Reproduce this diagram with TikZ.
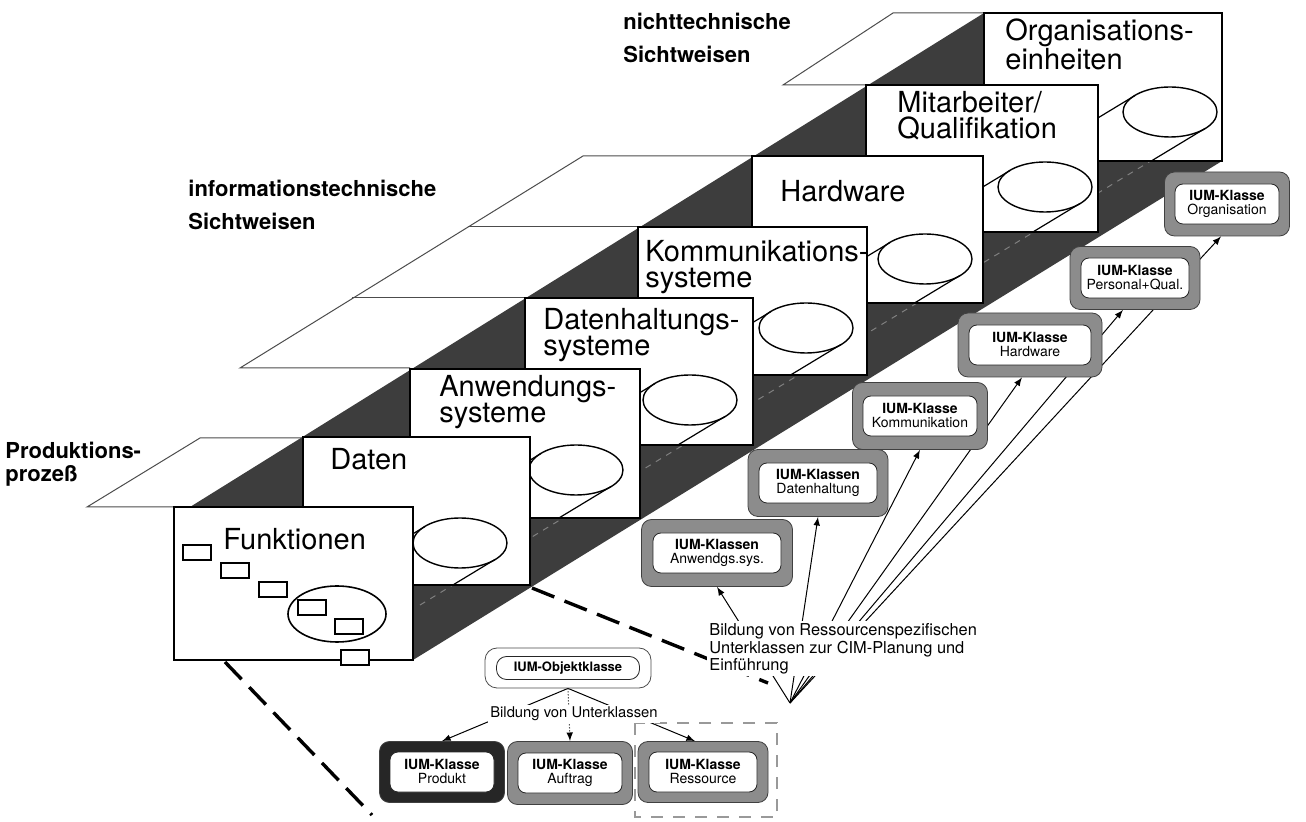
\documentclass[tikz,border=0pt]{standalone}
\usepackage{fontspec}
\setmainfont{TeX Gyre Heros}
\usetikzlibrary{backgrounds}

\begin{document}
\begin{tikzpicture}[x=0.5pt,y=-0.5pt,
    card/.style={draw=black,line width=1pt,fill=white},
    plane/.style={draw=black!70,line width=0.5pt},
    tube/.style={line width=0.6pt},
    cardtext/.style={anchor=north west,inner sep=0pt,align=left,font=\fontsize{14.5}{13}\selectfont},
    viewtext/.style={anchor=north west,inner sep=0pt,align=left,font=\fontsize{11}{16.5}\selectfont\bfseries},
    classframe/.style={draw=black!75,fill=black!45,rounded corners=5pt,minimum height=32pt,minimum width=#1},
    classcore/.style={draw=black!85,fill=white,rounded corners=4pt,minimum height=20pt,minimum width=#1,
      inner sep=1pt,align=center,font=\fontsize{7}{7}\selectfont},
    link/.style={-latex,line width=0.5pt},
    cut/.style={line width=1.7pt,dash pattern=on 12pt off 5.5pt}
  ]
  \useasboundingbox (0,0) rectangle (1306,822);

  % dark side of the stack and the tube behind it
  \fill[black!76] (190,507) -- (984,13) -- (1222,13) -- (1222,161) -- (413,660) -- (190,660) -- cycle;
  \draw[black!50,dashed,line width=0.5pt] (420,605) -- (1205,128);

  % planes
  \draw[plane] (174,507) -- (87,507) -- (200,438) -- (303,438);
  \draw[plane] (410,368) -- (240,368) -- (583,156) -- (752,156);
  \draw[plane] (352,298) -- (525,298);
  \draw[plane] (468,227) -- (638,227);
  \draw[plane] (866,85) -- (783,85) -- (893,13) -- (984,13);

  % views, from the back to the front
  \foreach \xl/\yt/\xr/\yb/\ex/\ey/\cn/\tx/\ty/\txt in {
      984/13/1222/161/1170/112/orga/1005/18/{Organisations-\\einheiten},
      866/85/1098/232/1045/187/mita/897/91/{Mitarbeiter/\\Qualifikation},
      752/156/983/303/925/259/hard/780/180/{Hardware},
      638/227/867/375/806/328/komm/645/240/{Kommunikations-\\systeme},
      525/298/753/445/690/400/dath/543/308/{Datenhaltungs-\\systeme},
      410/369/640/518/576/470/anws/439/375/{Anwendungs-\\systeme},
      303/437/530/585/460/543/date/330/448/{Daten}} {
    \filldraw[card] (\xl,\yt) rectangle (\xr,\yb);
    \begin{scope}
      \clip (\xl,\yt) rectangle (\xr,\yb);
      \draw[tube] (\ex-35,\ey-16.5) -- ++(-300,181.5);
      \draw[tube] (\ex+35,\ey+16.5) -- ++(-300,181.5);
    \end{scope}
    \draw[line width=0.7pt] (\ex,\ey) ellipse [x radius=47, y radius=25];
    \node[cardtext] (\cn) at (\tx,\ty) {\txt};
  }

  % front view
  \filldraw[card] (174,507) rectangle (413,660);
  \node[cardtext] (funk) at (223,528) {Funktionen};
  \draw[line width=0.8pt] (337,614) ellipse [x radius=49, y radius=28];
  \foreach \x/\y in {183/545,221/563,259/582,298/600,335/619,341/650}
    \draw[line width=0.8pt,fill=white] (\x,\y) rectangle ++(28,15);

  \node[viewtext,font=\fontsize{11}{11.5}\selectfont\bfseries] (prozess) at (5,442) {Produktions-\\prozeß};
  \node[viewtext] (infotech) at (188,180) {informationstechnische\\Sichtweisen};
  \node[viewtext] (nichttech) at (623,13) {nichttechnische\\Sichtweisen};

  % resource classes
  \node[classframe=75.5pt,minimum height=33.5pt] (anw) at (717,553) {};
  \node[classcore=64pt] at (anw) {\textbf{IUM-Klassen}\\Anwendgs.sys.};
  \node[classframe=70pt,minimum height=33.5pt] (dat) at (818,483) {};
  \node[classcore=59pt] at (dat) {\textbf{IUM-Klassen}\\Datenhaltung};
  \node[classframe=67.5pt,minimum height=33.5pt] (kom) at (920,416) {};
  \node[classcore=57pt] at (kom) {\textbf{IUM-Klasse}\\Kommunikation};
  \node[classframe=72pt] (hw) at (1030,345) {};
  \node[classcore=61pt] at (hw) {\textbf{IUM-Klasse}\\Hardware};
  \node[classframe=65pt,minimum height=31.5pt] (pers) at (1135,278) {};
  \node[classcore=54pt] at (pers) {\textbf{IUM-Klasse}\\Personal+Qual.};
  \node[classframe=62.5pt] (orgk) at (1227,204) {};
  \node[classcore=52pt] at (orgk) {\textbf{IUM-Klasse}\\Organisation};

  \coordinate (fan) at (790,703);
  \node[fill=white,inner sep=1pt,anchor=north west,align=left,font=\fontsize{8.2}{7.6}\selectfont] (resnote) at (707,621)
    {Bildung von Ressourcenspezifischen\\Unterklassen zur CIM-Planung und\\Einführung};

  % object class and its subclasses
  \node[draw=black!70,fill=white,rounded corners=6pt,minimum width=83pt,minimum height=20pt] (obj) at (568,668) {};
  \node[draw=black!85,rounded corners=5pt,minimum width=71.5pt,minimum height=11.5pt,inner sep=0pt,
    font=\fontsize{6.5}{6.5}\selectfont\bfseries] at (obj) {IUM-Objektklasse};
  \node[classframe=62.5pt,minimum height=30.5pt,fill=black!85] (prodk) at (442,772) {};
  \node[classcore=52pt] at (prodk) {\textbf{IUM-Klasse}\\Produkt};
  \node[classframe=62.5pt,minimum height=31.5pt] (auf) at (570,773) {};
  \node[classcore=52pt] at (auf) {\textbf{IUM-Klasse}\\Auftrag};
  \node[classframe=65pt,minimum height=30.5pt] (res) at (703,772) {};
  \node[classcore=54pt] at (res) {\textbf{IUM-Klasse}\\Ressource};
  \node[fill=white,inner sep=1pt,font=\fontsize{7.4}{8}\selectfont] (subnote) at (574,714) {Bildung von Unterklassen};

  \begin{scope}[on background layer]
    \draw[link] (fan) -- (anw.south);
    \draw[link] (fan) -- (dat.south);
    \draw[link] (fan) -- (kom.south);
    \draw[link] (fan) -- ([xshift=-4pt]hw.south);
    \draw[link] (fan) -- ([xshift=-6pt]pers.south);
    \draw[link] (fan) -- ([xshift=-3pt]orgk.south);
    \draw[link] (obj.south) -- (prodk.north);
    \draw[link,densely dotted] (obj.south) -- (auf.north);
    \draw[link] (obj.south) -- ([xshift=-4pt]res.north);
    \draw[gray!80,line width=0.6pt,dash pattern=on 6pt off 5pt] (635,723) rectangle (777,817);
    \draw[cut] (funk.south west |- 0,662) ++(2,0) -- (372,815);
    \draw[cut] (532,588) -- (768,683);
  \end{scope}
\end{tikzpicture}
\end{document}
